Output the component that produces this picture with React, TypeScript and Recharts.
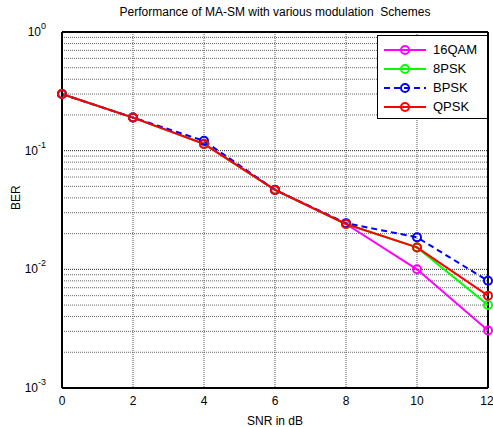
import React from "react"
import {
  LineChart,
  Line,
  XAxis,
  YAxis,
  CartesianGrid,
  ReferenceLine
} from "recharts"

const snr = [0, 2, 4, 6, 8, 10, 12]
const qam16 = [0.3, 0.19, 0.114, 0.0467, 0.0241, 0.01, 0.00305]
const psk8 = [0.3, 0.19, 0.114, 0.0467, 0.0241, 0.0153, 0.005]
const bpsk = [0.3, 0.19, 0.121, 0.0467, 0.0245, 0.0186, 0.008]
const qpsk = [0.3, 0.19, 0.114, 0.0467, 0.0241, 0.0153, 0.006]

const xTicks = [0, 2, 4, 6, 8, 10, 12]
const yTicks = [0.001, 0.01, 0.1, 1]
const yExponents = ["-3", "-2", "-1", "0"]
const minorMultipliers = [2, 3, 4, 5, 6, 7, 8, 9]

const data = snr.map((s, i) => ({
  snr: s,
  qam16: qam16[i],
  psk8: psk8[i],
  bpsk: bpsk[i],
  qpsk: qpsk[i]
}))

const minorTicks = yTicks
  .slice(0, 3)
  .flatMap(d => minorMultipliers.map(m => +(d * m).toPrecision(3)))

const series = [
  { key: "qam16", name: "16QAM", color: "#ff00ff", dash: undefined },
  { key: "psk8", name: "8PSK", color: "#00ff00", dash: undefined },
  { key: "bpsk", name: "BPSK", color: "#0000ff", dash: "6 4" },
  { key: "qpsk", name: "QPSK", color: "#ff0000", dash: undefined }
]

const font = "Arial, 'Liberation Sans', sans-serif"

function YTick(props: any) {
  const { x, y, payload } = props
  const idx = yTicks.indexOf(payload.value)
  return (
    <text x={x - 8} y={y + 4} textAnchor="end" fontSize={12} fill="#000" fontFamily={font}>
      10
      <tspan dy={-7} fontSize={9}>{yExponents[idx]}</tspan>
    </text>
  )
}

function LegendBox() {
  return (
    <div
      style={{
        position: "absolute",
        left: 377,
        top: 35,
        width: 111,
        height: 84,
        boxSizing: "border-box",
        border: "1px solid #000",
        background: "#fff",
        padding: "4px 0 0 0",
        fontFamily: font,
        fontSize: 13
      }}
    >
      {series.map(s => (
        <div key={s.key} style={{ display: "flex", alignItems: "center", height: 19 }}>
          <svg width={44} height={14} style={{ marginLeft: 5 }}>
            <line x1={1} y1={7} x2={43} y2={7} stroke={s.color} strokeWidth={2} strokeDasharray={s.dash} />
            <circle cx={22} cy={7} r={4} fill="none" stroke={s.color} strokeWidth={2} />
          </svg>
          <span style={{ marginLeft: 6 }}>{s.name}</span>
        </div>
      ))}
    </div>
  )
}

export default function App() {
  return (
    <div style={{ position: "absolute", left: 0, top: 0, width: 493, height: 427, background: "#fff" }}>
      <div
        style={{
          position: "absolute",
          left: 62,
          width: 426,
          top: 5,
          textAlign: "center",
          fontFamily: font,
          fontSize: 12
        }}
      >
        Performance of MA-SM with various modulation&nbsp; Schemes
      </div>
      <LineChart width={493} height={427} data={data} margin={{ top: 32, right: 5, bottom: 0, left: 0 }}>
        <CartesianGrid vertical={true} horizontal={false} stroke="#555" strokeDasharray="1 1" />
        {minorTicks.map(v => (
          <ReferenceLine key={v} y={v} stroke="#666" strokeDasharray="1 1" strokeWidth={1} />
        ))}
        {yTicks.map(v => (
          <ReferenceLine key={"m" + v} y={v} stroke="#222" strokeDasharray="1 1" strokeWidth={1} />
        ))}
        <ReferenceLine x={12} stroke="#000" strokeWidth={2} />
        <ReferenceLine y={1} stroke="#000" strokeWidth={2} />
        <XAxis
          dataKey="snr"
          type="number"
          domain={[0, 12]}
          ticks={xTicks}
          height={39}
          stroke="#000"
          strokeWidth={2}
          tickLine={false}
          tick={{ fill: "#000", fontSize: 12, fontFamily: font }}
          label={{ value: "SNR in dB", position: "insideBottom", offset: 2, fill: "#000", fontSize: 12, fontFamily: font }}
        />
        <YAxis
          scale="log"
          domain={[0.001, 1]}
          ticks={yTicks}
          allowDataOverflow
          width={62}
          stroke="#000"
          strokeWidth={2}
          tickLine={false}
          tick={<YTick />}
          label={{ value: "BER", angle: -90, position: "insideLeft", offset: 16, fill: "#000", fontSize: 12, fontFamily: font }}
        />
        {series.map(s => (
          <Line
            key={s.key}
            dataKey={s.key}
            name={s.name}
            stroke={s.color}
            strokeWidth={2}
            strokeDasharray={s.dash}
            dot={{ r: 4, fill: "none", stroke: s.color, strokeWidth: 2, strokeDasharray: "" }}
            isAnimationActive={false}
          />
        ))}
      </LineChart>
      <LegendBox />
    </div>
  )
}
